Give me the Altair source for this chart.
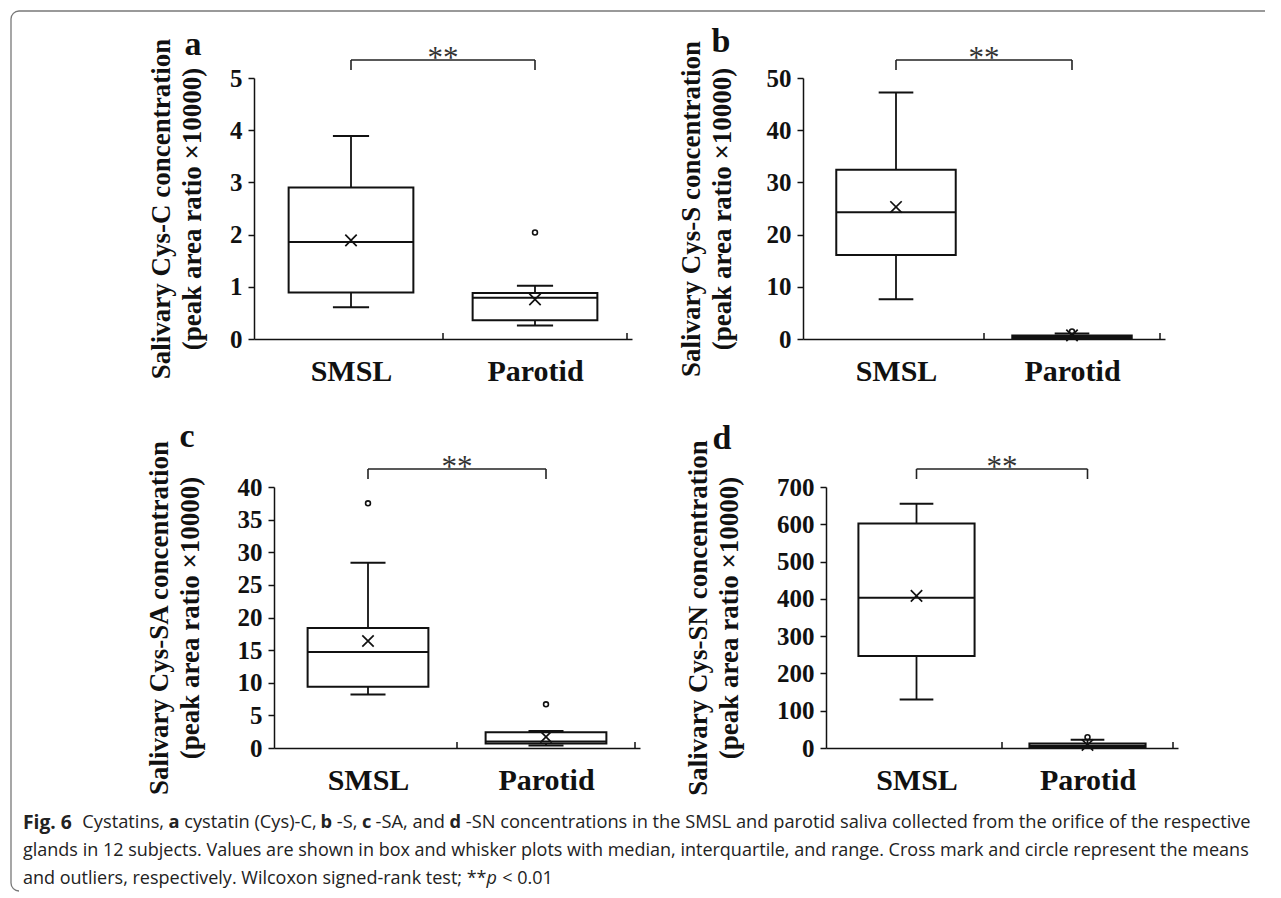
import altair as alt
import pandas as pd

groups = ["SMSL", "Parotid"]

# ---- panel a : Cys-C ----
a_min = [0.61, 0.26]
a_q1 = [0.89, 0.36]
a_med = [1.86, 0.79]
a_q3 = [2.90, 0.88]
a_max = [3.89, 1.02]
a_mean = [1.89, 0.76]
a_out_grp = ["Parotid"]
a_out_val = [2.04]
a_ticks = [0, 1, 2, 3, 4, 5]
a_title = ["Salivary Cys-C concentration", "(peak area ratio \u00d710000)"]

# ---- panel b : Cys-S ----
b_min = [7.6, 0.10]
b_q1 = [16.1, 0.20]
b_med = [24.3, 0.40]
b_q3 = [32.4, 0.65]
b_max = [47.2, 1.05]
b_mean = [25.3, 0.70]
b_out_grp = ["Parotid"]
b_out_val = [1.45]
b_ticks = [0, 10, 20, 30, 40, 50]
b_title = ["Salivary Cys-S concentration", "(peak area ratio \u00d710000)"]

# ---- panel c : Cys-SA ----
c_min = [8.2, 0.4]
c_q1 = [9.4, 0.7]
c_med = [14.7, 1.0]
c_q3 = [18.4, 2.4]
c_max = [28.4, 2.6]
c_mean = [16.4, 1.7]
c_out_grp = ["SMSL", "Parotid"]
c_out_val = [37.5, 6.7]
c_ticks = [0, 5, 10, 15, 20, 25, 30, 35, 40]
c_title = ["Salivary Cys-SA concentration", "(peak area ratio \u00d710000)"]

# ---- panel d : Cys-SN ----
d_min = [130, 1]
d_q1 = [247, 3]
d_med = [403, 6]
d_q3 = [602, 12]
d_max = [655, 22]
d_mean = [408, 8]
d_out_grp = ["Parotid"]
d_out_val = [29]
d_ticks = [0, 100, 200, 300, 400, 500, 600, 700]
d_title = ["Salivary Cys-SN concentration", "(peak area ratio \u00d710000)"]

sig_label = "**"
letters = ["a", "b", "c", "d"]

# ---- caption ----
cap1_text = ["Fig. 6", "Cystatins,", "a", "cystatin (Cys)-C,", "b", "-S,", "c", "-SA, and", "d",
             "-SN concentrations in the SMSL and parotid saliva collected from the orifice of the respective"]
cap1_bold = [True, False, True, False, True, False, True, False, True, False]
cap2_text = "glands in 12 subjects. Values are shown in box and whisker plots with median, interquartile, and range. Cross mark and circle represent the means"
cap3_text = ["and outliers, respectively. Wilcoxon signed-rank test; **", "p", "< 0.01"]
cap3_style = ["normal", "italic", "normal"]

SERIF = "Liberation Serif"
SANS = "Open Sans"
INK = "#111111"
H = 261

# approximate Open Sans advance widths (em) used only to lay caption pieces side by side
REG = {' ': .26, ',': .245, '-': .322, '(': .277, ')': .277, '.': .266, ';': .266, '*': .551,
       '<': .571, '0': .571, '1': .571, '2': .571, 'C': .631, 'S': .547, 'A': .633, 'N': .760,
       'M': .877, 'L': .516, 'W': .925, 'V': .579, 'a': .556, 'b': .613, 'c': .476, 'd': .613,
       'e': .561, 'f': .339, 'g': .548, 'h': .614, 'i': .253, 'k': .529, 'l': .253, 'm': .932,
       'n': .614, 'o': .604, 'p': .613, 'r': .408, 's': .477, 't': .353, 'u': .614, 'v': .501,
       'w': .778, 'x': .524, 'y': .502}
BLD = {'F': .573, 'i': .296, 'g': .56, '.': .286, ' ': .26, '6': .572, 'a': .595, 'b': .627,
       'c': .489, 'd': .627}


def em(s, bold=False):
    t = BLD if bold else REG
    return sum(t.get(ch, REG.get(ch, .55)) for ch in s)


def panel(letter, title, mins, q1s, meds, q3s, maxs, means, out_grp, out_val, ticks,
          W, title_pad, letter_x, letter_y):
    n = len(groups)
    pos = [i + 0.5 for i in range(n)]
    box_px = 0.66 * W / n
    cap_px = 0.29 * box_px

    df = pd.DataFrame({"pos": pos, "q1": q1s, "med": meds, "q3": q3s, "mean": means})
    whisk = pd.DataFrame({"pos": pos + pos, "lo": mins + q3s, "hi": q1s + maxs})
    caps = pd.DataFrame({"pos": pos + pos, "v": mins + maxs})
    outs = pd.DataFrame({"pos": [pos[groups.index(g)] for g in out_grp], "v": out_val})
    seps = pd.DataFrame({"pos": [i + 1.0 for i in range(n)]})
    brk = pd.DataFrame({"pos": [pos[0]], "pos2": [pos[-1]]})
    legs = pd.DataFrame({"pos": [pos[0], pos[-1]]})
    mid = pd.DataFrame({"pos": [sum(pos) / n]})

    label_expr = " : ".join(
        [f"datum.value < {i + 1} ? '{g}'" for i, g in enumerate(groups[:-1])] + [f"'{groups[-1]}'"]
    )
    x_axis = alt.Axis(values=pos, labelExpr=label_expr, ticks=False, grid=False, title=None,
                      domainColor=INK, domainWidth=1.5, labelFont=SERIF, labelFontWeight="bold",
                      labelFontSize=30, labelColor=INK, labelPadding=17, labelOverlap=False,
                      labelFlush=False)
    x_scale = alt.Scale(domain=[0, n], nice=False, zero=False)
    X = lambda f: alt.X(f"{f}:Q", scale=x_scale, axis=x_axis)

    y_axis = alt.Axis(values=ticks, grid=False, title=title, titleFont=SERIF, titleFontWeight="bold",
                      titleFontSize=27, titleLineHeight=31, titleColor=INK, titlePadding=title_pad,
                      labelFont=SERIF, labelFontWeight="bold", labelFontSize=25, labelColor=INK,
                      labelPadding=6, tickSize=6, tickColor=INK, tickWidth=1.5,
                      domainColor=INK, domainWidth=1.5)
    y_scale = alt.Scale(domain=[0, ticks[-1]], nice=False, zero=True)
    Y = lambda f: alt.Y(f"{f}:Q", scale=y_scale, axis=y_axis)

    layers = [
        alt.Chart(whisk).mark_rule(color=INK, strokeWidth=1.8).encode(x=X("pos"), y=Y("lo"), y2="hi"),
        alt.Chart(caps).mark_tick(orient="horizontal", size=cap_px, thickness=2, color=INK, opacity=1)
        .encode(x=X("pos"), y=Y("v")),
        alt.Chart(df).mark_bar(size=box_px, fill="white", stroke=INK, strokeWidth=2)
        .encode(x=X("pos"), y=Y("q1"), y2="q3"),
        alt.Chart(df).mark_tick(orient="horizontal", size=box_px, thickness=2, color=INK, opacity=1)
        .encode(x=X("pos"), y=Y("med")),
        alt.Chart(df).mark_point(shape="M-1,-1L1,1M-1,1L1,-1", size=130, filled=False,
                                 stroke=INK, strokeWidth=1.7, opacity=1)
        .encode(x=X("pos"), y=Y("mean")),
        alt.Chart(outs).mark_point(shape="circle", size=24, filled=False, stroke=INK,
                                   strokeWidth=1.6, opacity=1)
        .encode(x=X("pos"), y=Y("v")),
        alt.Chart(seps).mark_rule(color=INK, strokeWidth=1.5)
        .encode(x=X("pos"), y=alt.value(H), y2=alt.value(H - 6)),
        alt.Chart(brk).mark_rule(color="#222", strokeWidth=1.6)
        .encode(x=X("pos"), x2="pos2", y=alt.value(-18)),
        alt.Chart(legs).mark_rule(color="#222", strokeWidth=1.6)
        .encode(x=X("pos"), y=alt.value(-18), y2=alt.value(-8)),
        alt.Chart(mid).mark_text(font=SERIF, fontSize=31, color="#333", baseline="alphabetic",
                                 align="center")
        .encode(x=X("pos"), y=alt.value(-10), text=alt.value(sig_label)),
        alt.Chart(mid).mark_text(font=SERIF, fontSize=34, fontWeight="bold", color=INK,
                                 baseline="alphabetic", align="center")
        .encode(x=alt.value(letter_x), y=alt.value(letter_y), text=alt.value(letter)),
    ]
    return alt.layer(*layers).properties(width=W, height=H)


pa = panel(letters[0], a_title, a_min, a_q1, a_med, a_q3, a_max, a_mean, a_out_grp, a_out_val,
           a_ticks, 378, 23, -61, -23)
pb = panel(letters[1], b_title, b_min, b_q1, b_med, b_q3, b_max, b_mean, b_out_grp, b_out_val,
           b_ticks, 362, 30, -82, -26)
pc = panel(letters[2], c_title, c_min, c_q1, c_med, c_q3, c_max, c_mean, c_out_grp, c_out_val,
           c_ticks, 366, 33, -87, -40)
pd_ = panel(letters[3], d_title, d_min, d_q1, d_med, d_q3, d_max, d_mean, d_out_grp, d_out_val,
            d_ticks, 352, 33, -104, -38)

one = pd.DataFrame({"k": [0]})
spacer = alt.Chart(one).mark_point(opacity=0, size=1).encode(
    x=alt.value(0), y=alt.value(0)).properties(width=1, height=1)

row1 = alt.hconcat(pa, pb, spacing=44)
row2 = alt.hconcat(alt.hconcat(spacer, pc, spacing=-110), pd_, spacing=44)
grid = alt.vconcat(row1, row2, spacing=34)

# ---- caption block with the frame (positions relative to caption origin) ----
OX = 253
OY = 800
LINE_Y = [822, 850, 878]
cap_layers = []

size1 = 1228.0 / (em(cap1_text[0], True) * 19 / 18 + sum(em(s, b) for s, b in zip(cap1_text[1:], cap1_bold[1:]))
                  + em(" ") * (len(cap1_text) - 1) + 0.3)
xcur = 22.0
for i, (s, bold) in enumerate(zip(cap1_text, cap1_bold)):
    fs = size1 * 19 / 18 if i == 0 else size1
    cap_layers.append(
        alt.Chart(one).mark_text(font=SANS, fontSize=fs, fontWeight="bold" if bold else "normal",
                                 color="#222", align="left", baseline="middle")
        .encode(x=alt.value(xcur - OX), y=alt.value(LINE_Y[0] - OY), text=alt.value(s))
    )
    xcur += em(s, bold) * fs + em(" ") * size1 + (0.3 * size1 if i == 0 else 0)

cap_layers.append(
    alt.Chart(one).mark_text(font=SANS, fontSize=18, color="#222", align="left", baseline="middle")
    .encode(x=alt.value(22 - OX), y=alt.value(LINE_Y[1] - OY), text=alt.value(cap2_text))
)
xcur = 22.0
for j, (s, sty) in enumerate(zip(cap3_text, cap3_style)):
    cap_layers.append(
        alt.Chart(one).mark_text(font=SANS, fontSize=18, fontStyle=sty, color="#222",
                                 align="left", baseline="middle")
        .encode(x=alt.value(xcur - OX), y=alt.value(LINE_Y[2] - OY), text=alt.value(s))
    )
    xcur += em(s) * 18 + (0 if j == 0 else em(" ") * 18)

FR = "#777777"
cap_layers += [
    alt.Chart(one).mark_rule(color=FR, strokeWidth=1.3)
    .encode(x=alt.value(18 - OX), x2=alt.value(1264 - OX), y=alt.value(10 - OY)),
    alt.Chart(one).mark_rule(color=FR, strokeWidth=1.3)
    .encode(x=alt.value(10 - OX), y=alt.value(18 - OY), y2=alt.value(882 - OY)),
    alt.Chart(one).mark_arc(innerRadius=7.35, outerRadius=8.65, theta=4.712, theta2=6.2832, color=FR)
    .encode(x=alt.value(18 - OX), y=alt.value(18 - OY)),
    alt.Chart(one).mark_arc(innerRadius=7.35, outerRadius=8.65, theta=3.1416, theta2=4.712, color=FR)
    .encode(x=alt.value(18 - OX), y=alt.value(882 - OY)),
]
caption = alt.layer(*cap_layers).properties(width=990, height=80)

chart = (
    alt.vconcat(grid, caption, spacing=-786)
    .properties(padding={"left": 2, "top": 2, "right": 0, "bottom": 0})
    .configure_view(stroke=None)
)

chart.save("out.html", embed_options={"renderer": "svg", "actions": False})
